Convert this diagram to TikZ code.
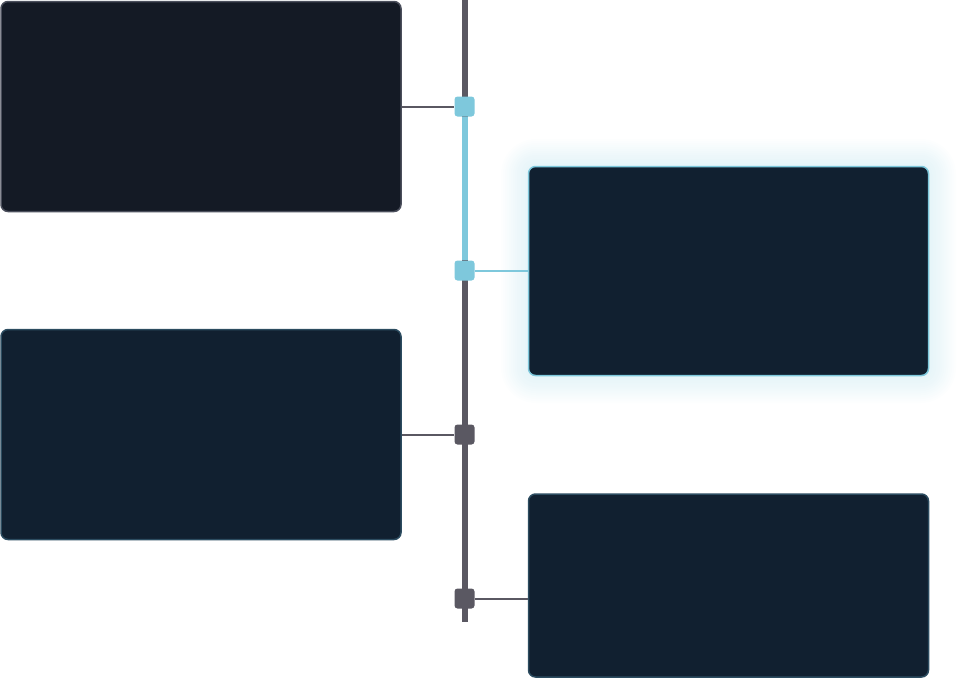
\documentclass[tikz,border=0pt]{standalone}
\usetikzlibrary{calc}
\definecolor{bgA}{HTML}{141A25}
\definecolor{bgB}{HTML}{112030}
\definecolor{edgeA}{HTML}{4B4F5C}
\definecolor{edgeB}{HTML}{2C4C60}
\definecolor{hl}{HTML}{7EC8DC}
\definecolor{axis}{HTML}{5A5862}
\tikzset{
  card/.style={draw=edgeB, line width=1.5pt, fill=bgB, rounded corners=7pt, minimum width=400pt, inner sep=0pt},
  cardA/.style={card, draw=edgeA, fill=bgA},
  cardH/.style={card, draw=hl},
  mark box/.style={fill=axis, rounded corners=3pt, minimum size=20pt, inner sep=0pt},
  mark hl/.style={mark box, fill=hl},
  conn/.style={draw=axis, line width=2pt},
  connH/.style={draw=hl, line width=2pt},
}
\begin{document}
\begin{tikzpicture}[x=1pt,y=-1pt]
\useasboundingbox (0,0) rectangle (962,678);
% glow
\foreach \i in {2,4,...,28}{
  \fill[hl, opacity=0.014, rounded corners={7pt+\i pt}] ($(529-\i,167-\i)$) rectangle ($(928+\i,375+\i)$);
}
% axis
\coordinate (top) at (464.5,0);
\coordinate (bot) at (464.5,622);
\draw[axis, line width=6pt] (top) -- (bot);
\node[cardA, minimum height=210pt] (c1) at (201,106.5) {};
\node[cardH, minimum height=209pt] (c2) at (728.5,271) {};
\node[card, minimum height=210pt] (c3) at (201,434.5) {};
\node[card, minimum height=183pt] (c4) at (728.5,585.5) {};
\node[mark hl] (m1) at (464.5,106.5) {};
\node[mark hl] (m2) at (464.5,270.5) {};
\node[mark box] (m3) at (464.5,434.5) {};
\node[mark box] (m4) at (464.5,598.5) {};
\draw[hl, line width=6pt] (m1.south) -- (m2.north);
\draw[conn] (c1.east |- m1) -- (m1.west);
\draw[connH] (m2.east) -- (c2.west |- m2);
\draw[conn] (c3.east |- m3) -- (m3.west);
\draw[conn] (m4.east) -- (c4.west |- m4);
\end{tikzpicture}
\end{document}
